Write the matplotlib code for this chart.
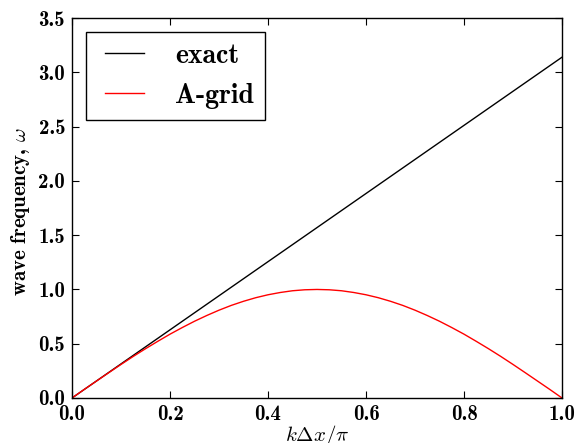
import matplotlib
matplotlib.use("Agg")
import matplotlib.pyplot as plt

# data
x_exact = [0.0, 1.0]
w_exact = [0.0, 3.14]
x_agrid = [0.0, 0.025, 0.05, 0.075, 0.10, 0.125, 0.15, 0.175, 0.20, 0.225, 0.25,
           0.275, 0.30, 0.325, 0.35, 0.375, 0.40, 0.425, 0.45, 0.475, 0.50,
           0.525, 0.55, 0.575, 0.60, 0.625, 0.65, 0.675, 0.70, 0.725, 0.75,
           0.775, 0.80, 0.825, 0.85, 0.875, 0.90, 0.925, 0.95, 0.975, 1.0]
w_agrid = [0.0, 0.079, 0.156, 0.233, 0.309, 0.383, 0.454, 0.522, 0.588, 0.649, 0.707,
           0.760, 0.809, 0.853, 0.891, 0.924, 0.951, 0.972, 0.988, 0.997, 1.0,
           0.997, 0.988, 0.972, 0.951, 0.924, 0.891, 0.853, 0.809, 0.760, 0.707,
           0.649, 0.588, 0.522, 0.454, 0.383, 0.309, 0.233, 0.156, 0.079, 0.0]
xticks = [0.0, 0.2, 0.4, 0.6, 0.8, 1.0]
yticks = [0.0, 0.5, 1.0, 1.5, 2.0, 2.5, 3.0, 3.5]

plt.rcParams['mathtext.fontset'] = 'cm'
plt.rcParams['axes.unicode_minus'] = False

fig = plt.figure(figsize=(5.83, 4.43), dpi=100)
ax = fig.add_axes([0.1235, 0.1016, 0.8405, 0.8575])
ax.plot(x_exact, w_exact, color='black', lw=1.0, label='exact')
ax.plot(x_agrid, w_agrid, color='red', lw=1.0, label='A-grid')
ax.set_xlim(0, 1)
ax.set_ylim(0, 3.5)
ax.set_xticks(xticks)
ax.set_yticks(yticks)
ax.set_xticklabels(['%.1f' % v for v in xticks], fontfamily='cmb10', fontsize=15)
ax.set_yticklabels(['%.1f' % v for v in yticks], fontfamily='cmb10', fontsize=15)
ax.tick_params(direction='in', top=True, right=True, length=5, width=0.8, pad=5)
for s in ax.spines.values():
    s.set_linewidth(1.0)
ax.set_xlabel(r'$k\Delta x/\pi$', fontsize=15, labelpad=-1)
ax.set_ylabel(r'wave frequency, $\omega$', fontfamily='cmb10', fontsize=15)
ax.yaxis.set_label_coords(-0.082, 0.49)
leg = ax.legend(loc='upper left', prop={'family': 'cmb10', 'size': 20},
                numpoints=2, handlelength=2.0, handletextpad=0.8, labelspacing=0.5,
                borderpad=0.4, fancybox=False, framealpha=1, edgecolor='black',
                borderaxespad=0.5)
leg.get_frame().set_linewidth(1.0)
fig.savefig('out.png', dpi=100)
